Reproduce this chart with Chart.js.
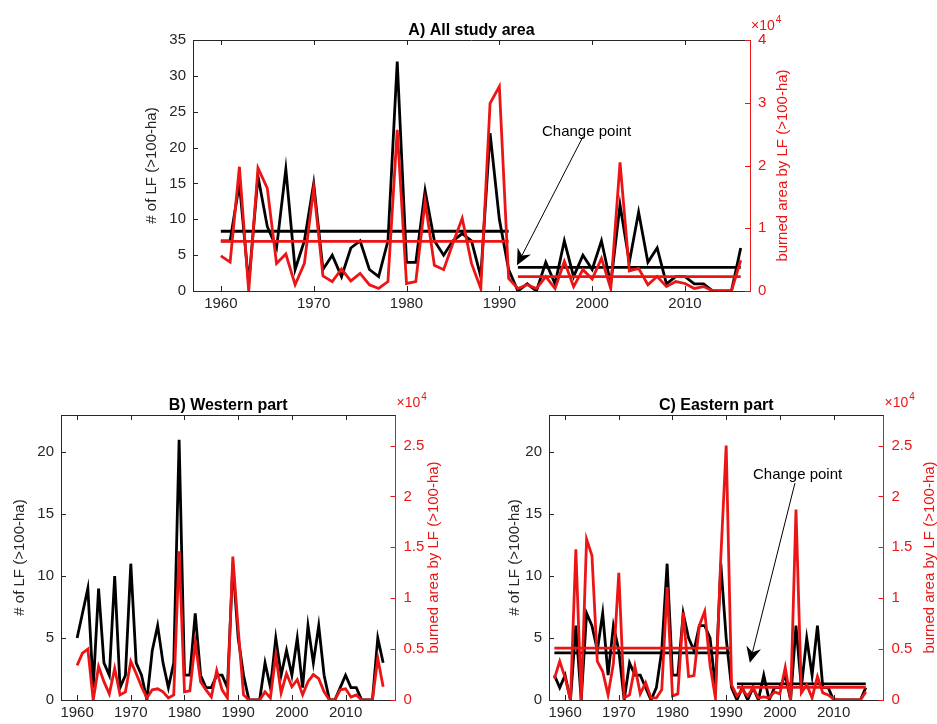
<!DOCTYPE html>
<html>
<head>
<meta charset="utf-8">
<title>Large fires per year</title>
<script src="https://cdn.jsdelivr.net/npm/chart.js@4.4.1/dist/chart.umd.min.js"></script>
<style>
  html, body { margin: 0; padding: 0; background: #fff; }
  #wrap { position: relative; width: 937px; height: 724px; overflow: hidden; }
  #wrap canvas { position: absolute; }
</style>
</head>
<body>
<div id="wrap">
  <canvas id="chartA" width="937" height="340" style="left:0;top:0"></canvas>
  <canvas id="chartB" width="468" height="384" style="left:0;top:340px"></canvas>
  <canvas id="chartC" width="469" height="384" style="left:468px;top:340px"></canvas>
</div>
<script>
// ---- data (burned area in units of 10^4 ha) ----
const xTicks = [1960, 1970, 1980, 1990, 2000, 2010];

// A) all study area
const yearsA = [1960,1961,1962,1963,1964,1965,1966,1967,1968,1969,
                1970,1971,1972,1973,1974,1975,1976,1977,1978,1979,
                1980,1981,1982,1983,1984,1985,1986,1987,1988,1989,
                1990,1991,1992,1993,1994,1995,1996,1997,1998,1999,
                2000,2001,2002,2003,2004,2005,2006,2007,2008,2009,
                2010,2011,2012,2013,2014,2015,2016];
const fireCountA = [7,7,15,1,16,9,6,17,3,7,
                    15,3,5,2,6,7,3,2,7,32,
                    4,4,14,7,5,7,8,7,2,22,
                    10,3,0,1,0,4,1,7,2,5,
                    3,7,1,12,4,11,4,6,1,2,
                    2,1,1,0,0,0,6];
const burnedAreaA = [0.56,0.46,1.98,0,1.96,1.64,0.44,0.59,0.10,0.44,
                     1.64,0.24,0.15,0.35,0.16,0.28,0.10,0.04,0.15,2.57,
                     0.12,0.15,1.43,0.41,0.34,0.76,1.16,0.44,0.04,2.99,
                     3.26,0.20,0.04,0.10,0.04,0.23,0.04,0.47,0.07,0.34,
                     0.19,0.52,0.04,2.05,0.32,0.36,0.10,0.23,0.07,0.15,
                     0.12,0.04,0.07,0,0,0,0.49];
const periodsA = [[1960, 1991], [1992, 2016]];
const meanCountA = [8.33, 3.3];
const meanAreaA = [0.79, 0.23];
const countTicksA = [0, 5, 10, 15, 20, 25, 30, 35];
const areaTicksA = [0, 1, 2, 3, 4];

// B) western part
const yearsB = [1960,1961,1962,1963,1964,1965,1966,1967,1968,1969,
                1970,1971,1972,1973,1974,1975,1976,1977,1978,1979,
                1980,1981,1982,1983,1984,1985,1986,1987,1988,1989,
                1990,1991,1992,1993,1994,1995,1996,1997,1998,1999,
                2000,2001,2002,2003,2004,2005,2006,2007,2008,2009,
                2010,2011,2012,2013,2014,2015,2016,2017];
const fireCountB = [5,7,9,1,9,3,2,10,1,2,
                    11,3,2,0,4,6,3,1,3,21,
                    2,2,7,2,1,1,2,2,1,11,
                    5,2,0,0,0,3,1,5,2,4,
                    2,5,1,6,3,6,2,0,0,1,
                    2,1,1,0,0,0,5,3];
const burnedAreaB = [0.34,0.46,0.50,0,0.33,0.18,0.06,0.31,0.05,0.08,
                     0.38,0.26,0.13,0.02,0.10,0.11,0.08,0.02,0.05,1.46,
                     0.08,0.09,0.57,0.18,0.10,0.03,0.29,0.10,0.02,1.41,
                     0.70,0.05,0,0,0,0.08,0.02,0.44,0.07,0.26,
                     0.13,0.20,0.05,0.18,0.25,0.21,0.08,0,0,0.10,
                     0.11,0.03,0.05,0,0,0,0.41,0.13];

// C) eastern part
const yearsC = [1958,1959,
                1960,1961,1962,1963,1964,1965,1966,1967,1968,1969,
                1970,1971,1972,1973,1974,1975,1976,1977,1978,1979,
                1980,1981,1982,1983,1984,1985,1986,1987,1988,1989,
                1990,1991,1992,1993,1994,1995,1996,1997,1998,1999,
                2000,2001,2002,2003,2004,2005,2006,2007,2008,2009,
                2010,2011,2012,2013,2014,2015,2016];
const fireCountC = [2,1,
                    2,0,6,0,7,6,4,7,2,6,
                    4,0,3,2,2,1,0,1,4,11,
                    2,2,7,5,4,6,6,5,1,11,
                    5,1,0,1,0,1,0,2,0,1,
                    1,2,0,6,1,5,2,6,1,1,
                    0,0,0,0,0,0,1];
const burnedAreaC = [0.21,0.38,
                     0.22,0,1.48,0,1.58,1.42,0.38,0.28,0.05,0.36,
                     1.25,0.02,0.05,0.33,0.06,0.17,0.02,0.02,0.10,1.11,
                     0.04,0.06,0.86,0.23,0.24,0.73,0.87,0.34,0.02,1.40,
                     2.50,0.15,0.04,0.10,0.04,0.12,0.02,0.03,0.02,0.08,
                     0.06,0.32,0,1.87,0.07,0.15,0.02,0.23,0.07,0.05,
                     0.01,0,0,0,0,0,0.08];
const periodsC = [[1958, 1991], [1992, 2016]];
const meanCountC = [3.8, 1.3];
const meanAreaC = [0.51, 0.125];
const countTicksBC = [0, 5, 10, 15, 20];
const areaTicksBC = [0, 0.5, 1, 1.5, 2, 2.5];

// ---- style ----
const FONT = "'Liberation Sans', Helvetica, Arial, sans-serif";
const AX = '#262626';
const RED = '#ec1515';
const BLACK = '#000';
const TICK = 5;

function pts(xs, ys) { return xs.map((x, i) => ({ x: x, y: ys[i] })); }

function series(data, color, axis) {
  return { data: data, yAxisID: axis, borderColor: color, borderWidth: 2.8,
           pointRadius: 0, tension: 0, fill: false, borderJoinStyle: 'miter' };
}

function meanLines(periods, means, color, axis) {
  return periods.map((p, i) => series([{ x: p[0], y: means[i] }, { x: p[1], y: means[i] }], color, axis));
}

function arrow(ctx, x0, y0, x1, y1) {
  const ang = Math.atan2(y1 - y0, x1 - x0);
  const L = 16, W = 7.5, back = 5;
  ctx.beginPath();
  ctx.moveTo(x0, y0);
  ctx.lineTo(x1 - Math.cos(ang) * (L - back), y1 - Math.sin(ang) * (L - back));
  ctx.stroke();
  ctx.save();
  ctx.translate(x1, y1);
  ctx.rotate(ang);
  ctx.beginPath();
  ctx.moveTo(0, 0);
  ctx.lineTo(-L, -W);
  ctx.lineTo(-L + back, 0);
  ctx.lineTo(-L, W);
  ctx.closePath();
  ctx.fill();
  ctx.restore();
}

// box, inner ticks, titles, exponent, annotation
const decor = {
  id: 'decor',
  afterDraw(chart, args, o) {
    const ctx = chart.ctx, ca = chart.chartArea;
    const sx = chart.scales.x, sy = chart.scales.y, sr = chart.scales.y1;
    ctx.save();
    ctx.lineWidth = 1;
    ctx.strokeStyle = AX;
    ctx.beginPath();
    ctx.moveTo(ca.left, ca.top + 0.5);
    ctx.lineTo(ca.right, ca.top + 0.5);
    sx.ticks.forEach(t => {
      const px = Math.round(sx.getPixelForValue(t.value)) + 0.5;
      ctx.moveTo(px, ca.bottom); ctx.lineTo(px, ca.bottom - TICK);
      ctx.moveTo(px, ca.top); ctx.lineTo(px, ca.top + TICK);
    });
    sy.ticks.forEach(t => {
      const py = Math.round(sy.getPixelForValue(t.value)) + 0.5;
      ctx.moveTo(ca.left, py); ctx.lineTo(ca.left + TICK, py);
    });
    ctx.stroke();
    ctx.strokeStyle = RED;
    ctx.beginPath();
    sr.ticks.forEach(t => {
      const py = Math.round(sr.getPixelForValue(t.value)) + 0.5;
      ctx.moveTo(ca.right, py); ctx.lineTo(ca.right - TICK, py);
    });
    ctx.stroke();

    // panel title
    ctx.fillStyle = '#000';
    ctx.font = 'bold 16px ' + FONT;
    ctx.textAlign = 'center';
    ctx.textBaseline = 'alphabetic';
    ctx.fillText(o.title, (ca.left + ca.right) / 2, ca.top - 5);

    // axis titles
    const midY = (ca.top + ca.bottom) / 2;
    ctx.font = '15px ' + FONT;
    ctx.textBaseline = 'middle';
    ctx.save();
    ctx.translate(ca.left - o.leftOff, midY);
    ctx.rotate(-Math.PI / 2);
    ctx.fillStyle = AX;
    ctx.fillText('# of LF (>100-ha)', 0, 0);
    ctx.restore();
    ctx.save();
    ctx.translate(ca.right + o.rightOff, midY);
    ctx.rotate(-Math.PI / 2);
    ctx.fillStyle = RED;
    ctx.fillText('burned area by LF (>100-ha)', 0, 0);
    ctx.restore();

    // x10^4 exponent
    ctx.fillStyle = RED;
    ctx.textAlign = 'left';
    ctx.textBaseline = 'alphabetic';
    ctx.font = '14px ' + FONT;
    const ex = ca.right + 1, ey = ca.top - o.expOff;
    ctx.fillText('\u00d710', ex, ey);
    const w = ctx.measureText('\u00d710').width;
    ctx.font = '10px ' + FONT;
    ctx.fillText('4', ex + w + 1, ey - 7);

    // change point note
    if (o.note) {
      const n = o.note;
      ctx.fillStyle = '#000';
      ctx.strokeStyle = '#000';
      ctx.font = '15px ' + FONT;
      ctx.textAlign = 'center';
      ctx.textBaseline = 'middle';
      ctx.fillText('Change point', sx.getPixelForValue(n.text[0]), sy.getPixelForValue(n.text[1]));
      ctx.lineWidth = 1;
      arrow(ctx, sx.getPixelForValue(n.from[0]), sy.getPixelForValue(n.from[1]),
                 sx.getPixelForValue(n.to[0]), sy.getPixelForValue(n.to[1]));
    }
    ctx.restore();
  }
};

function axisOpts(p) {
  const base = {
    grid: { display: true, drawOnChartArea: false, drawTicks: false },
    border: { display: true, width: 1 }
  };
  return {
    x: Object.assign({}, base, {
      type: 'linear', min: p.xMin, max: p.xMax,
      border: { display: true, width: 1, color: AX },
      afterBuildTicks: s => { s.ticks = xTicks.map(v => ({ value: v })); },
      afterFit: s => { s.height = p.bottomH; },
      ticks: { color: AX, font: { family: FONT, size: 15 }, padding: 4, maxRotation: 0,
               callback: v => String(v) }
    }),
    y: Object.assign({}, base, {
      position: 'left', min: 0, max: p.yMax,
      border: { display: true, width: 1, color: AX },
      afterBuildTicks: s => { s.ticks = p.yTicks.map(v => ({ value: v })); },
      afterFit: s => { s.width = p.leftW; },
      ticks: { color: AX, font: { family: FONT, size: 15 }, padding: 7, callback: v => String(v) }
    }),
    y1: Object.assign({}, base, {
      position: 'right', min: 0, max: p.y1Max,
      border: { display: true, width: 1, color: RED },
      afterBuildTicks: s => { s.ticks = p.y1Ticks.map(v => ({ value: v })); },
      afterFit: s => { s.width = p.rightW; },
      ticks: { color: RED, font: { family: FONT, size: 15 }, padding: 8, callback: v => String(v) }
    })
  };
}

function panel(id, p) {
  const datasets = []
    .concat(p.meanArea ? meanLines(p.periods, p.meanArea, RED, 'y1') : [])
    .concat([series(pts(p.years, p.area), RED, 'y1')])
    .concat(p.meanCount ? meanLines(p.periods, p.meanCount, BLACK, 'y') : [])
    .concat([series(pts(p.years, p.count), BLACK, 'y')]);
  return new Chart(document.getElementById(id), {
    type: 'line',
    data: { datasets: datasets },
    options: {
      responsive: false,
      animation: false,
      devicePixelRatio: 1,
      events: [],
      layout: { padding: { top: p.topPad, left: 0, right: 0, bottom: 0 } },
      scales: axisOpts(p),
      plugins: {
        legend: { display: false },
        tooltip: { enabled: false },
        decor: p.decor
      }
    },
    plugins: [decor]
  });
}

panel('chartA', {
  years: yearsA, count: fireCountA, area: burnedAreaA,
  periods: periodsA, meanCount: meanCountA, meanArea: meanAreaA,
  xMin: 1957, xMax: 2017, yMax: 35, y1Max: 4, yTicks: countTicksA, y1Ticks: areaTicksA,
  topPad: 40, leftW: 193, rightW: 187, bottomH: 49,
  decor: { title: 'A) All study area', leftOff: 41, rightOff: 33, expOff: 10,
           note: { text: [1999.4, 22.2], from: [1999.0, 21.5], to: [1991.9, 3.6] } }
});

panel('chartB', {
  years: yearsB, count: fireCountB, area: burnedAreaB,
  xMin: 1957, xMax: 2019.3, yMax: 23, y1Max: 2.8, yTicks: countTicksBC, y1Ticks: areaTicksBC,
  topPad: 75, leftW: 61, rightW: 72.5, bottomH: 24,
  decor: { title: 'B) Western part', leftOff: 41, rightOff: 38, expOff: 8 }
});

panel('chartC', {
  years: yearsC, count: fireCountC, area: burnedAreaC,
  periods: periodsC, meanCount: meanCountC, meanArea: meanAreaC,
  xMin: 1957, xMax: 2019.3, yMax: 23, y1Max: 2.8, yTicks: countTicksBC, y1Ticks: areaTicksBC,
  topPad: 75, leftW: 81, rightW: 53.5, bottomH: 24,
  decor: { title: 'C) Eastern part', leftOff: 34, rightOff: 46, expOff: 8,
           note: { text: [2003.3, 18.2], from: [2002.8, 17.5], to: [1994.4, 3.0] } }
});
</script>
</body>
</html>
